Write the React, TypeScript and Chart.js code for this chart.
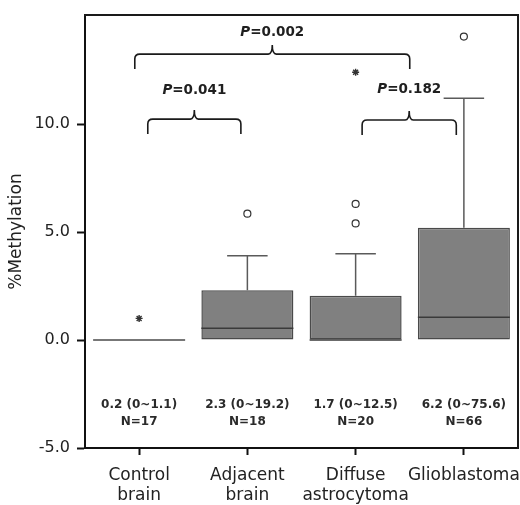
import { useEffect, useRef } from 'react';
import { Chart, registerables } from 'chart.js';

Chart.register(...registerables);

const CATEGORIES = ['Control brain', 'Adjacent brain', 'Diffuse astrocytoma', 'Glioblastoma'];
const Q1 = [0, 0, 0, 0];
const MEDIAN = [0, 0.55, 0, 1.05];
const Q3 = [0, 2.3, 2.05, 5.2];
const WHISKER_HIGH = [0, 3.9, 4.0, 11.2];
const CIRCLE_CATS = [1, 2, 2, 3];
const CIRCLE_VALUES = [5.85, 5.4, 6.3, 14.05];
const STAR_CATS = [0, 2];
const STAR_VALUES = [1.0, 12.4];
const SUMMARY = ['0.2 (0~1.1)', '2.3 (0~19.2)', '1.7 (0~12.5)', '6.2 (0~75.6)'];
const N_LABELS = ['N=17', 'N=18', 'N=20', 'N=66'];
const SUMMARY_Y = [-3.0, -3.8];
const BRACKET_FROM = [0.08, -0.04, 2.06];
const BRACKET_TO = [0.94, 2.5, 2.93];
const BRACKET_Y = [10.23, 13.24, 10.19];
const P_LABEL_Y = [11.57, 14.24, 11.62];
const P_VALUES = ['0.041', '0.002', '0.182'];
const Y_TICKS = [-5, 0, 5, 10];
const Y_MIN = -5;
const Y_MAX = 15.05;

const FONT = 'DejaVu Sans';

const extrasPlugin = {
  id: 'boxExtras',
  afterDatasetsDraw(chart: any) {
    const ctx = chart.ctx;
    const xs = chart.scales.x;
    const ys = chart.scales.y;
    const meta = chart.getDatasetMeta(0);
    ctx.save();
    CATEGORIES.forEach((_, i) => {
      const cx = xs.getPixelForValue(i);
      const w = meta.data[i].width;
      if (WHISKER_HIGH[i] > Q3[i]) {
        const yq = ys.getPixelForValue(Q3[i]);
        const yw = ys.getPixelForValue(WHISKER_HIGH[i]);
        ctx.strokeStyle = '#5a5a5a';
        ctx.lineWidth = 1.5;
        ctx.beginPath();
        ctx.moveTo(cx, yq);
        ctx.lineTo(cx, yw);
        ctx.moveTo(cx - w * 0.22, yw);
        ctx.lineTo(cx + w * 0.22, yw);
        ctx.stroke();
      }
      const ym = ys.getPixelForValue(MEDIAN[i]);
      ctx.strokeStyle = Q3[i] > Q1[i] ? '#3a3a3a' : '#777';
      ctx.lineWidth = Q3[i] > Q1[i] ? 1.5 : 2;
      ctx.beginPath();
      ctx.moveTo(cx - w / 2, ym);
      ctx.lineTo(cx + w / 2, ym);
      ctx.stroke();
      ctx.fillStyle = '#2a2a2a';
      ctx.font = `bold 12px "${FONT}"`;
      ctx.textAlign = 'center';
      ctx.textBaseline = 'middle';
      ctx.fillText(SUMMARY[i], cx, ys.getPixelForValue(SUMMARY_Y[0]));
      ctx.fillText(N_LABELS[i], cx, ys.getPixelForValue(SUMMARY_Y[1]));
    });
    BRACKET_Y.forEach((v, k) => {
      const x1 = xs.getPixelForValue(BRACKET_FROM[k]);
      const x2 = xs.getPixelForValue(BRACKET_TO[k]);
      const xm = (x1 + x2) / 2;
      const y = ys.getPixelForValue(v);
      const drop = 15;
      const tip = 9;
      const r = 5;
      ctx.strokeStyle = '#1a1a1a';
      ctx.lineWidth = 1.6;
      ctx.beginPath();
      ctx.moveTo(x1, y + drop);
      ctx.lineTo(x1, y + r);
      ctx.quadraticCurveTo(x1, y, x1 + r, y);
      ctx.lineTo(xm - 4, y);
      ctx.quadraticCurveTo(xm, y, xm, y - tip);
      ctx.quadraticCurveTo(xm, y, xm + 4, y);
      ctx.lineTo(x2 - r, y);
      ctx.quadraticCurveTo(x2, y, x2, y + r);
      ctx.lineTo(x2, y + drop);
      ctx.stroke();
      const italic = `italic bold 13.5px "${FONT}"`;
      const normal = `bold 13.5px "${FONT}"`;
      ctx.font = italic;
      const wP = ctx.measureText('P').width;
      ctx.font = normal;
      const rest = '=' + P_VALUES[k];
      const wR = ctx.measureText(rest).width;
      const start = xm - (wP + wR) / 2;
      const ly = ys.getPixelForValue(P_LABEL_Y[k]);
      ctx.fillStyle = '#1f1f1f';
      ctx.textAlign = 'left';
      ctx.textBaseline = 'middle';
      ctx.font = italic;
      ctx.fillText('P', start, ly);
      ctx.font = normal;
      ctx.fillText(rest, start + wP, ly);
    });
    ctx.restore();
  },
  afterDraw(chart: any) {
    const ctx = chart.ctx;
    const { left, right, top, bottom } = chart.chartArea;
    ctx.save();
    ctx.strokeStyle = '#1a1a1a';
    ctx.lineWidth = 2;
    ctx.beginPath();
    ctx.moveTo(left - 1, top);
    ctx.lineTo(right, top);
    ctx.lineTo(right, bottom + 1);
    ctx.stroke();
    ctx.restore();
  },
};

export default function App() {
  const ref = useRef<HTMLCanvasElement>(null);
  useEffect(() => {
    const canvas = ref.current;
    if (!canvas) return;
    Chart.defaults.font.family = FONT;
    const chart = new Chart(canvas, {
      type: 'bar',
      data: {
        labels: CATEGORIES,
        datasets: [
          {
            type: 'bar',
            data: Q1.map((q, i) => [q, Q3[i]]),
            backgroundColor: '#808080',
            borderColor: '#4a4a4a',
            borderWidth: 1.5,
            borderSkipped: false,
            barPercentage: 0.85,
            categoryPercentage: 1,
          } as any,
          {
            type: 'line',
            data: CIRCLE_VALUES.map((y, i) => ({ x: CATEGORIES[CIRCLE_CATS[i]], y })),
            showLine: false,
            pointStyle: 'circle',
            pointRadius: 3.5,
            pointBackgroundColor: '#ffffff',
            pointBorderColor: '#333333',
            pointBorderWidth: 1.2,
          } as any,
          {
            type: 'line',
            data: STAR_VALUES.map((y, i) => ({ x: CATEGORIES[STAR_CATS[i]], y })),
            showLine: false,
            pointStyle: 'star',
            pointRadius: 3.5,
            pointBorderColor: '#333333',
            pointBackgroundColor: '#333333',
            pointBorderWidth: 1.4,
          } as any,
        ],
      },
      options: {
        responsive: false,
        animation: false,
        events: [],
        layout: { autoPadding: false, padding: { top: 15, right: 2, left: 0, bottom: 0 } },
        plugins: { legend: { display: false }, tooltip: { enabled: false } },
        scales: {
          x: {
            type: 'category',
            offset: true,
            grid: {
              display: true,
              offset: false,
              drawOnChartArea: false,
              drawTicks: true,
              tickLength: 7,
              tickWidth: 2,
              color: '#111111',
            },
            border: { display: true, color: '#111111', width: 2 },
            ticks: {
              callback: function (this: any, value: any) {
                return this.getLabelForValue(value).split(' ');
              },
              font: { size: 17 },
              color: '#222222',
              padding: 10,
              maxRotation: 0,
              autoSkip: false,
            },
            afterFit(scale: any) {
              scale.height = 57;
              scale.paddingLeft = 0;
              scale.paddingRight = 0;
            },
          },
          y: {
            min: Y_MIN,
            max: Y_MAX,
            afterBuildTicks(scale: any) {
              scale.ticks = Y_TICKS.map((v) => ({ value: v }));
            },
            grid: {
              drawOnChartArea: false,
              drawTicks: true,
              tickLength: 8,
              tickWidth: 2,
              color: '#111111',
            },
            border: { display: true, color: '#111111', width: 2 },
            ticks: {
              callback: (v: any) => Number(v).toFixed(1),
              font: { size: 16 },
              color: '#222222',
              padding: 7,
            },
            title: {
              display: true,
              text: '%Methylation',
              font: { size: 17 },
              color: '#222222',
              padding: { top: 6, bottom: 0 },
            },
            afterFit(scale: any) {
              scale.width = 85;
              scale.paddingTop = 0;
              scale.paddingBottom = 0;
            },
          },
        },
      } as any,
      plugins: [extrasPlugin],
    });
    return () => chart.destroy();
  }, []);
  return (
    <div style={{ position: 'fixed', left: 0, top: 0, width: 520, height: 505, background: '#fff' }}>
      <canvas ref={ref} width={520} height={505} style={{ display: 'block' }} />
    </div>
  );
}
